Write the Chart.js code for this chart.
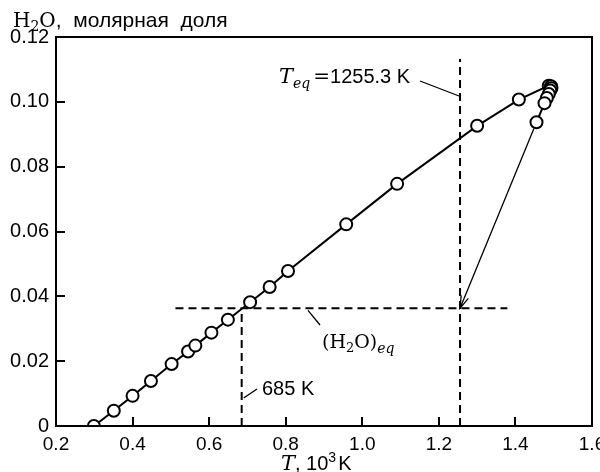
<!DOCTYPE html>
<html>
<head>
<meta charset="utf-8">
<script src="https://cdn.jsdelivr.net/npm/chart.js@4"></script>
<style>
  body { margin: 0; background: #fff; }
  #wrap { width: 600px; height: 472px; }
</style>
</head>
<body>
<div id="wrap"><canvas id="grafico"></canvas></div>
<script>
// temperatura, 10^3 K
const temperatura = [0.299, 0.351, 0.400, 0.448, 0.502, 0.545, 0.564, 0.606, 0.649, 0.707, 0.758, 0.806, 0.958, 1.091, 1.300, 1.409, 1.487, 1.493, 1.494, 1.491, 1.487, 1.482, 1.476, 1.455];
// fraccion molar de H2O
const fraccionH2O = [0.0, 0.0047, 0.0093, 0.0139, 0.0191, 0.0230, 0.0248, 0.0288, 0.0328, 0.0382, 0.0429, 0.0478, 0.0622, 0.0747, 0.0926, 0.1007, 0.1050, 0.1048, 0.1042, 0.1035, 0.1024, 0.1012, 0.0996, 0.0937];
const ticksX = [0.2, 0.4, 0.6, 0.8, 1.0, 1.2, 1.4, 1.6];
const ticksY = [0, 0.02, 0.04, 0.06, 0.08, 0.10, 0.12];
const tEq = 1.2553;
const t685 = 0.685;
const h2oEq = 0.0363;
const h2oEqDesde = 0.512;
const h2oEqHasta = 1.379;
const tEqTope = 0.1132;

const puntos = temperatura.map((t, i) => ({ x: t, y: fraccionH2O[i] }));

const SANS = '"Liberation Sans", Arial, sans-serif';
const SERIF = '"DejaVu Serif", "Liberation Serif", serif';

function textoMixto(ctx, x, y, partes) {
    ctx.textAlign = 'left';
    ctx.textBaseline = 'alphabetic';
    partes.forEach(p => {
        ctx.font = p.f;
        ctx.fillText(p.t, x, y + (p.dy || 0));
        x += ctx.measureText(p.t).width + (p.sp || 0);
    });
}

const anotaciones = {
    id: 'anotaciones',
    afterDatasetsDraw(chart) {
        const ctx = chart.ctx;
        const a = chart.chartArea;
        const xs = chart.scales.x, ys = chart.scales.y;
        ctx.save();
        ctx.strokeStyle = '#000';
        ctx.fillStyle = '#000';
        ctx.lineWidth = 2;
        ctx.setLineDash([]);
        ctx.strokeRect(a.left, a.top, a.right - a.left, a.bottom - a.top);
        // marcas hacia dentro
        ticksX.forEach(v => {
            const px = Math.round(xs.getPixelForValue(v));
            ctx.beginPath(); ctx.moveTo(px, a.bottom); ctx.lineTo(px, a.bottom - 9); ctx.stroke();
        });
        ticksY.forEach(v => {
            const py = Math.round(ys.getPixelForValue(v));
            ctx.beginPath(); ctx.moveTo(a.left, py); ctx.lineTo(a.left + 9, py); ctx.stroke();
        });

        // flecha
        const n = temperatura.length - 1;
        const x0 = xs.getPixelForValue(temperatura[n]), y0 = ys.getPixelForValue(fraccionH2O[n]);
        const x1 = xs.getPixelForValue(tEq), y1 = ys.getPixelForValue(h2oEq);
        const ang = Math.atan2(y1 - y0, x1 - x0);
        ctx.lineWidth = 1.3;
        ctx.beginPath();
        ctx.moveTo(x0 + 7 * Math.cos(ang), y0 + 7 * Math.sin(ang));
        ctx.lineTo(x1, y1);
        ctx.moveTo(x1 - 13 * Math.cos(ang - 0.3), y1 - 13 * Math.sin(ang - 0.3));
        ctx.lineTo(x1, y1);
        ctx.lineTo(x1 - 13 * Math.cos(ang + 0.3), y1 - 13 * Math.sin(ang + 0.3));
        ctx.stroke();

        // lineas de referencia de etiquetas
        ctx.lineWidth = 1.3;
        ctx.beginPath();
        ctx.moveTo(420, 81); ctx.lineTo(xs.getPixelForValue(tEq) - 1, 96);
        ctx.moveTo(xs.getPixelForValue(t685) + 2, 398); ctx.lineTo(257, 389);
        ctx.moveTo(308, ys.getPixelForValue(h2oEq) + 2); ctx.lineTo(320, 325);
        ctx.stroke();

        // textos
        textoMixto(ctx, 13, 27, [
            { t: 'H', f: '20px ' + SERIF },
            { t: '2', f: '14px ' + SERIF, dy: 4 },
            { t: 'O', f: '20px ' + SERIF },
            { t: ',  молярная  доля', f: '21px ' + SANS }
        ]);
        textoMixto(ctx, 279, 83, [
            { t: 'T', f: 'italic 21px ' + SERIF },
            { t: 'eq', f: 'italic 14px ' + SERIF, dy: 5, sp: 3 },
            { t: '=', f: '20px ' + SERIF },
            { t: '1255.3 K', f: '20px ' + SANS }
        ]);
        textoMixto(ctx, 262, 395, [{ t: '685 K', f: '20px ' + SANS }]);
        textoMixto(ctx, 322, 348, [
            { t: '(H', f: '19px ' + SERIF },
            { t: '2', f: '13px ' + SERIF, dy: 4 },
            { t: 'O)', f: '19px ' + SERIF },
            { t: 'eq', f: 'italic 14px ' + SERIF, dy: 5 }
        ]);
        textoMixto(ctx, 281, 470, [
            { t: 'T', f: 'italic 21px ' + SERIF },
            { t: ', 10', f: '20px ' + SANS },
            { t: '3', f: '14px ' + SANS, dy: -8, sp: 2 },
            { t: 'K', f: '20px ' + SANS }
        ]);
        ctx.restore();
    }
};

const discontinua = { borderColor: '#000', borderWidth: 2, borderDash: [8, 5], pointRadius: 0, showLine: true, fill: false };

const grafico = new Chart(document.getElementById('grafico').getContext('2d'), {
    type: 'scatter',
    data: {
        datasets: [
            Object.assign({ data: [{ x: h2oEqDesde, y: h2oEq }, { x: h2oEqHasta, y: h2oEq }] }, discontinua),
            Object.assign({ data: [{ x: t685, y: 0 }, { x: t685, y: h2oEq }] }, discontinua),
            Object.assign({ data: [{ x: tEq, y: 0 }, { x: tEq, y: tEqTope }] }, discontinua),
            {
                data: puntos,
                showLine: true,
                borderColor: '#000',
                borderWidth: 2,
                tension: 0,
                pointRadius: 6,
                pointBorderWidth: 2,
                pointBorderColor: '#000',
                pointBackgroundColor: '#fff'
            }
        ]
    },
    options: {
        responsive: true,
        maintainAspectRatio: false,
        animation: false,
        events: [],
        layout: { padding: { top: 37, right: 5, left: 0, bottom: 0 } },
        plugins: { legend: { display: false }, tooltip: { enabled: false } },
        scales: {
            x: {
                type: 'linear', min: 0.2, max: 1.6,
                grid: { display: false, drawTicks: false },
                border: { display: false },
                afterFit: s => { s.height = 46; s.paddingLeft = 0; s.paddingRight = 0; },
                afterBuildTicks: s => { s.ticks = ticksX.map(v => ({ value: v })); },
                ticks: {
                    padding: 7, color: '#000',
                    font: { family: SANS, size: 19 },
                    callback: v => v.toFixed(1)
                }
            },
            y: {
                type: 'linear', min: 0, max: 0.12,
                grid: { display: false, drawTicks: false },
                border: { display: false },
                afterFit: s => { s.width = 56; },
                afterBuildTicks: s => { s.ticks = ticksY.map(v => ({ value: v })); },
                ticks: {
                    padding: 7, color: '#000',
                    font: { family: SANS, size: 20 },
                    callback: v => v === 0 ? '0' : v.toFixed(2)
                }
            }
        }
    },
    plugins: [anotaciones]
});
</script>
</body>
</html>
